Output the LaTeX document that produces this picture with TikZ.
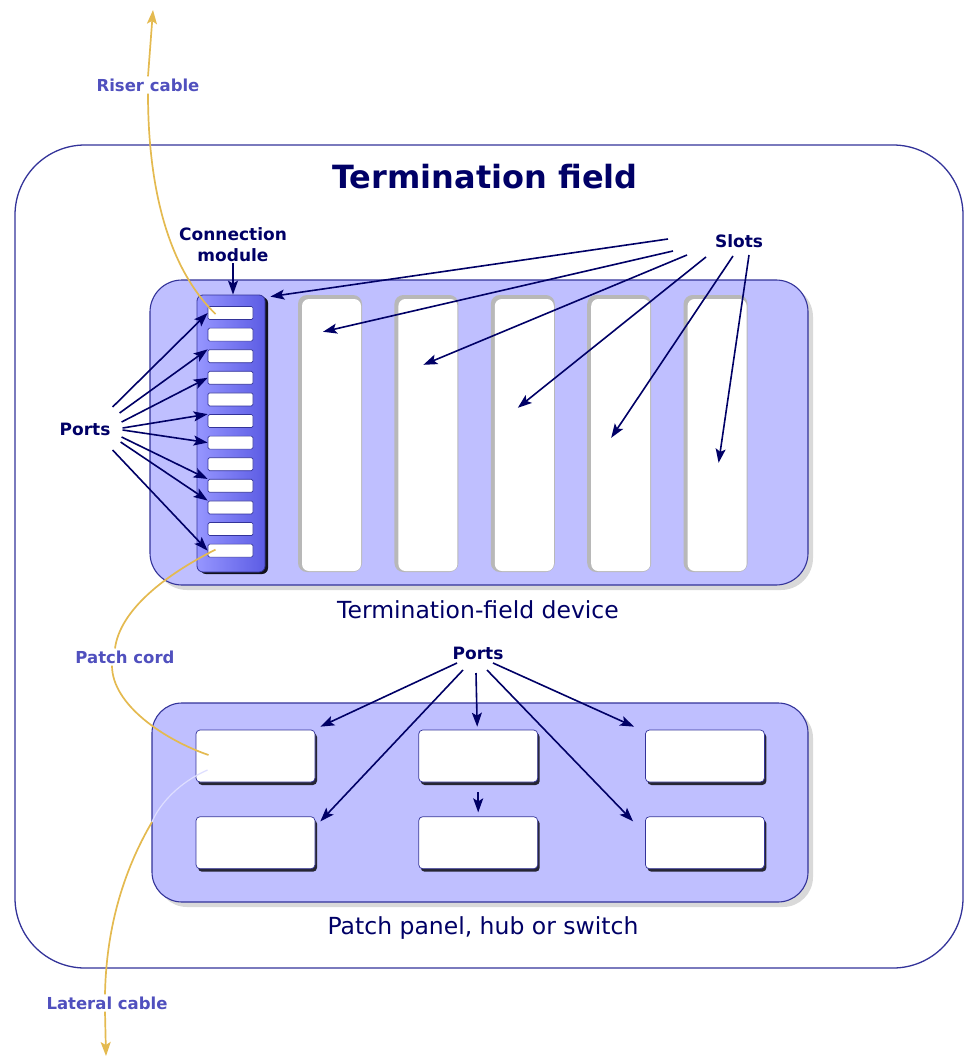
\documentclass[tikz,border=0pt]{standalone}
\usepackage{fontspec}
\setmainfont{DejaVu Sans}
\usetikzlibrary{positioning,arrows.meta,shadows}

\definecolor{edge}{RGB}{51,51,153}
\definecolor{ink}{RGB}{0,0,102}
\definecolor{devfill}{RGB}{191,191,255}
\definecolor{modlight}{RGB}{150,150,255}
\definecolor{moddark}{RGB}{92,92,228}
\definecolor{cable}{RGB}{228,186,80}
\definecolor{cabletext}{RGB}{80,80,190}
\definecolor{palecord}{RGB}{222,222,255}

\begin{document}
\begin{tikzpicture}[x=1pt, y=-1pt,
  field/.style={draw=edge, line width=1.3pt, rounded corners=70pt,
                minimum width=948pt, minimum height=823pt},
  dev/.style={draw=edge, line width=1.1pt, fill=devfill,
              drop shadow={shadow xshift=5pt, shadow yshift=-5pt, opacity=.3}},
  modbox/.style={draw=edge, line width=.8pt, rounded corners=6pt,
                 left color=modlight, right color=moddark,
                 minimum width=68pt, minimum height=277pt,
                 drop shadow={shadow xshift=3pt, shadow yshift=-2pt, fill=black, opacity=.9}},
  mport/.style={draw=edge, line width=.7pt, fill=white, rounded corners=1.5pt,
                minimum width=45pt, minimum height=13pt, inner sep=0pt},
  slotbox/.style={fill=black!28, rounded corners=9pt, minimum width=64pt, minimum height=277pt,
    path picture={\fill[white, rounded corners=7pt]
      ([shift={(4,4)}]path picture bounding box.north west) rectangle
      ([shift={(-1,-1)}]path picture bounding box.south east);}},
  pport/.style={draw=edge, line width=.7pt, fill=white, rounded corners=4pt,
                minimum width=119pt, minimum height=52pt,
                drop shadow={shadow xshift=2pt, shadow yshift=-3pt, fill=black, opacity=.8}},
  heading/.style={font=\bfseries\fontsize{32}{38}\selectfont, text=ink},
  captxt/.style={font=\fontsize{23.5}{28}\selectfont, text=ink},
  lbl/.style={font=\bfseries\fontsize{17}{21}\selectfont, text=ink, align=center, inner sep=1pt},
  cablelbl/.style={font=\bfseries\fontsize{16.5}{20}\selectfont, text=cabletext, inner sep=2pt},
  arr/.style={-{Stealth[length=14pt, width=10pt, inset=3pt]}, line width=1.6pt, draw=ink},
  cord/.style={draw=cable, line width=1.7pt}]
\useasboundingbox (0,0) rectangle (964,1059);

% frame and title
\node[field] (tfield) at (489,556.5) {};
\node[heading] (ttl) at (485,177) {Termination field};

% termination-field device
\node[dev, rounded corners=32pt, minimum width=658pt, minimum height=305pt] (tfdev) at (479,432.5) {};
\node[modbox] (cmod) at (231,433.5) {};
\foreach \i in {1,...,12}
  \node[mport] (port\i) at (230.5,{313+21.6*(\i-1)}) {};
\node[slotbox] (slot1) at (330,433.5) {};
\foreach \i [remember=\i as \j (initially 1)] in {2,...,5}
  \node[slotbox, right=32pt of slot\j] (slot\i) {};
\node[captxt] (devcap) at (478,610) {Termination-field device};

% patch panel
\node[dev, rounded corners=30pt, minimum width=656pt, minimum height=199pt] (panel) at (480,802.5) {};
\node[pport] (pp1) at (255.5,756) {};
\node[pport, right=103pt of pp1] (pp2) {};
\node[pport, right=107pt of pp2] (pp3) {};
\node[pport, below=34pt of pp1] (pp4) {};
\node[pport, below=34pt of pp2] (pp5) {};
\node[pport, below=34pt of pp3] (pp6) {};
\node[captxt] (panelcap) at (483,928) {Patch panel, hub or switch};

% labels
\node[lbl] (lblcmod) at (233,245) {Connection\\module};
\node[lbl] (lblports) at (85,429) {Ports};
\node[lbl] (lblslots) at (739,241) {Slots};
\node[lbl] (lblpports) at (478,653) {Ports};
\node[cablelbl] (lblriser) at (148,85) {Riser cable};
\node[cablelbl] (lblpatch) at (125,657) {Patch cord};
\node[cablelbl] (lbllateral) at (107,1003) {Lateral cable};

% arrows
\draw[arr] (lblcmod.south) -- (lblcmod.south |- cmod.north);
\foreach \dx/\dy/\p/\a in {1/-22/1/west, 8/-16/3/north west, 10/-7/4/west, 11/-1/6/north west,
                           11/1/7/west, 10/8/9/north west, 9/13/10/north west, 1/21/12/west}
  \draw[arr] ([shift={(\dx,\dy)}]lblports.east) -- (port\p.\a);
\draw[arr] ([shift={(-71,-2)}]lblslots.center) -- ([shift={(5,2)}]cmod.north east);
\foreach \dx/\dy/\s/\tx/\ty in {-66/10/1/-7/37, -52/14/2/-3/70, -33/16/3/-5/113,
                                -6/15/4/-8/143, 10/14/5/3/168}
  \draw[arr] ([shift={(\dx,\dy)}]lblslots.center) -- ([shift={(\tx,\ty)}]slot\s.north);
\draw[arr] ([shift={(-21,10)}]lblpports.center) -- ([shift={(5,-3)}]pp1.north east);
\draw[arr] ([shift={(-15,17)}]lblpports.center) -- ([shift={(5,5)}]pp4.north east);
\draw[arr] ([shift={(-2,20)}]lblpports.center) -- ([shift={(-1,-3)}]pp2.north);
\draw[arr] ([shift={(9,17)}]lblpports.center) -- ([shift={(-12,5)}]pp6.north west);
\draw[arr] ([shift={(15,10)}]lblpports.center) -- ([shift={(-11,-3)}]pp3.north west);
\draw[arr] ([shift={(0,10)}]pp2.south) -- ([shift={(0,-4)}]pp5.north);

% cables
\coordinate (riserend) at (153,10);
\coordinate (panelexit) at (152,822);
\coordinate (lateralend) at (106,1056);
\draw[cord] ([shift={(-15,1)}]port1.center) .. controls (165,265) and (148,180) .. (lblriser.south);
\draw[cord, -{Stealth[length=14pt, width=10pt, inset=3pt]}, fill=cable] (lblriser.north) -- (riserend);
\draw[cord] ([shift={(-15,-1)}]port12.center) .. controls (165,575) and (120,610) .. ([shift={(-10,0)}]lblpatch.north);
\draw[cord] ([shift={(-13,0)}]lblpatch.south) .. controls (112,705) and (165,740) .. ([shift={(-47,-1)}]pp1.center);
\draw[draw=palecord, line width=1.2pt] ([shift={(-48,14)}]pp1.center) .. controls (180,782) and (160,803) .. (panelexit);
\draw[cord] (panelexit) .. controls (118,880) and (106,940) .. ([shift={(-2,0)}]lbllateral.north);
\draw[cord, -{Stealth[length=14pt, width=10pt, inset=3pt]}] ([shift={(-2,0)}]lbllateral.south) -- (lateralend);
\end{tikzpicture}
\end{document}
